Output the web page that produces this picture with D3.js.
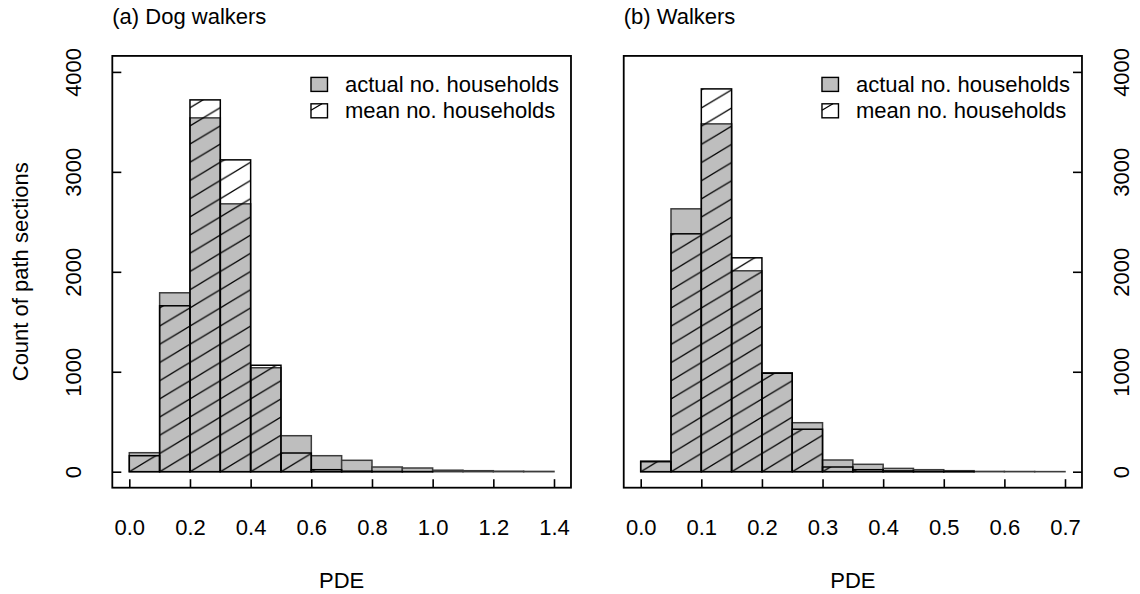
<!DOCTYPE html>
<html><head><meta charset="utf-8">
<script src="https://cdnjs.cloudflare.com/ajax/libs/d3/7.8.5/d3.min.js"></script>
<style>
body{margin:0;background:#fff}
text{font-family:"Liberation Sans",Arial,Helvetica,sans-serif;fill:#000}
</style>
</head><body>
<svg id="c" width="1140" height="594"></svg>
<script>
// ---- data ----
const dogBreaks  = [0,0.1,0.2,0.3,0.4,0.5,0.6,0.7,0.8,0.9,1.0,1.1,1.2,1.3,1.4];
const dogActual  = [190,1790,3540,2680,1040,360,160,114,47,37,15,10,5,3];
const dogMean    = [160,1660,3720,3120,1065,187,20,5,2,1,0,0,0,0];
const walkBreaks = [0,0.05,0.1,0.15,0.2,0.25,0.3,0.35,0.4,0.45,0.5,0.55,0.6,0.65,0.7];
const walkActual = [107,2630,3480,2010,990,490,117,74,33,20,10,3,2,1];
const walkMean   = [100,2380,3830,2140,985,425,47,20,8,3,1,0,0,0];
const dogTicks   = [0,0.2,0.4,0.6,0.8,1.0,1.2,1.4];
const walkTicks  = [0,0.1,0.2,0.3,0.4,0.5,0.6,0.7];
const countTicks = [0,1000,2000,3000,4000];
const titles     = ["(a) Dog walkers","(b) Walkers"];
const legendLabels = ["actual no. households","mean no. households"];
const xLabel = "PDE";
const yLabel = "Count of path sections";

// ---- layout ----
const FS = 22, LH = 26.4;
const svg = d3.select('#c');
const defs = svg.append('defs');
const y = d3.scaleLinear().domain([0,4000]).range([471.7,71.9]);
const yTop = y(4160), yBot = y(-160);

const panels = [
  {title:titles[0], breaks:dogBreaks, actual:dogActual, mean:dogMean, ticks:dogTicks,
   x:d3.scaleLinear().domain([0,1.4]).range([129.3,554]), side:'left'},
  {title:titles[1], breaks:walkBreaks, actual:walkActual, mean:walkMean, ticks:walkTicks,
   x:d3.scaleLinear().domain([0,0.7]).range([640.7,1065]), side:'right'}
];

panels.forEach((p,pi)=>{
  const x = p.x;
  const dom = x.domain(), span = dom[1]-dom[0];
  const bx0 = x(dom[0]-0.04*span), bx1 = x(dom[1]+0.04*span);
  const g = svg.append('g');

  // hatch pattern anchored at data origin
  const w = x(p.breaks[1]) - x(p.breaks[0]);
  const h = w*0.6;
  const pat = defs.append('pattern').attr('id','hatch'+pi)
    .attr('patternUnits','userSpaceOnUse')
    .attr('x',x(0)).attr('y',y(0)).attr('width',w).attr('height',h);
  [-h,0,h].forEach(off=>{
    pat.append('line')
      .attr('x1',-1).attr('y1',h+off+0.6)
      .attr('x2',w+1).attr('y2',off-0.6)
      .attr('stroke','#000').attr('stroke-width',1.3);
  });

  const bins = p.actual.map((v,i)=>({x0:p.breaks[i], x1:p.breaks[i+1], a:v, m:p.mean[i]}));

  g.selectAll('rect.act').data(bins).join('rect').attr('class','act')
    .attr('x',d=>x(d.x0)).attr('width',d=>x(d.x1)-x(d.x0))
    .attr('y',d=>y(d.a)).attr('height',d=>y(0)-y(d.a))
    .attr('fill','#bebebe').attr('stroke','#3c3c3c').attr('stroke-width',1.5);

  g.selectAll('rect.mean').data(bins).join('rect').attr('class','mean')
    .attr('x',d=>x(d.x0)).attr('width',d=>x(d.x1)-x(d.x0))
    .attr('y',d=>y(d.m)).attr('height',d=>y(0)-y(d.m))
    .attr('fill','url(#hatch'+pi+')').attr('stroke','#000').attr('stroke-width',1.5);

  // box
  g.append('rect').attr('x',bx0).attr('y',yTop).attr('width',bx1-bx0).attr('height',yBot-yTop)
    .attr('fill','none').attr('stroke','#000').attr('stroke-width',1.8);

  // x axis (ticks inward)
  const xa = g.append('g').attr('transform',`translate(0,${yBot})`)
    .call(d3.axisBottom(x).tickValues(p.ticks).tickSize(-8.5).tickSizeOuter(0).tickFormat(d3.format('.1f')));
  xa.select('.domain').remove();
  xa.selectAll('line').attr('stroke','#000').attr('stroke-width',1.6);
  xa.selectAll('text').attr('y',1.8*LH).attr('dy',null)
    .style('font-size',FS+'px').attr('font-family',null);

  // y axis
  const axisGen = p.side==='left' ? d3.axisLeft(y) : d3.axisRight(y);
  const yx = p.side==='left' ? bx0 : bx1;
  const ya = g.append('g').attr('transform',`translate(${yx},0)`)
    .call(axisGen.tickValues(countTicks).tickSize(-9).tickSizeOuter(0).tickFormat(d3.format('d')));
  ya.select('.domain').remove();
  ya.selectAll('line').attr('stroke','#000').attr('stroke-width',1.6);
  const lx = p.side==='left' ? -1.2*LH : 1.8*LH;
  ya.selectAll('text')
    .attr('x',null).attr('y',null).attr('dy',null).attr('dx',null)
    .attr('text-anchor','middle')
    .attr('transform',`translate(${lx},0) rotate(-90)`)
    .style('font-size',FS+'px').attr('font-family',null);

  // titles and labels
  g.append('text').attr('x',bx0).attr('y',yTop-1.2*LH).text(p.title).style('font-size',FS+'px');
  g.append('text').attr('x',(bx0+bx1)/2).attr('y',yBot+3.8*LH).attr('text-anchor','middle')
    .text(xLabel).style('font-size',FS+'px');
  if(p.side==='left'){
    g.append('text').attr('text-anchor','middle')
      .attr('transform',`translate(${bx0-3.2*LH},${(yTop+yBot)/2}) rotate(-90)`)
      .text(yLabel).style('font-size',FS+'px');
  }

  // legend
  const lgx = bx1-260, r1 = yTop+28.5;
  legendLabels.forEach((lab,i)=>{
    const cy = r1 + i*LH;
    const bw = 16.5, bh = 14;
    const lg = g.append('g');
    lg.append('rect').attr('x',lgx).attr('y',cy-bh/2).attr('width',bw).attr('height',bh)
      .attr('fill', i===0 ? '#bebebe' : '#fff').attr('stroke','#000').attr('stroke-width',1.4);
    if(i===1){
      lg.append('line').attr('x1',lgx).attr('y1',cy-bh/2+6.5).attr('x2',lgx+11).attr('y2',cy-bh/2)
        .attr('stroke','#000').attr('stroke-width',1.3);
    }
    lg.append('text').attr('x',lgx+34).attr('y',cy+7.6).text(lab).style('font-size',FS+'px');
  });
});
</script>
</body></html>
